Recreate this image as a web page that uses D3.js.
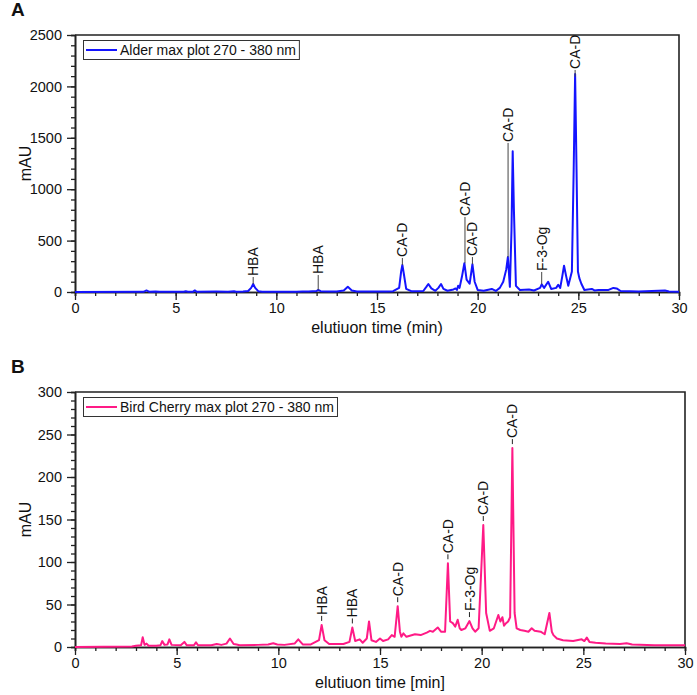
<!DOCTYPE html>
<html>
<head>
<meta charset="utf-8">
<script src="https://cdn.jsdelivr.net/npm/d3@7"></script>
<style>
	body { margin: 0; background: #fff; }
	svg { font-family: "Liberation Sans", Arial, sans-serif; }
	.axis path, .axis line { stroke: #222; }
	.axis text { font-size: 14.5px; fill: #111; }
	.lbl { font-size: 14px; fill: #111; }
</style>
</head>
<body>
<svg id="svg" width="697" height="695"></svg>
<script>
// Alder trace (min, mAU)
const alderTime = [0, 3.4, 3.55, 3.7, 4.0, 4.2, 5.4, 5.5, 5.6, 5.85, 5.95, 6.05, 7.0, 7.6, 7.9, 8.0, 8.35, 8.6, 8.75, 8.85, 8.95, 9.1, 9.3,
	11.0, 11.3, 11.6, 12.0, 12.08, 12.2, 12.6, 13.0, 13.35, 13.55, 13.75, 14.0, 15.5, 15.8, 16.1, 16.2, 16.26, 16.33, 16.45, 16.7,
	17.3, 17.45, 17.55, 17.7, 17.9, 18.05, 18.18, 18.3, 18.5, 18.8, 18.9, 18.97, 19.03, 19.1, 19.22, 19.34, 19.45, 19.6, 19.74, 19.85,
	20.0, 20.3, 20.7, 20.9, 21.1, 21.27, 21.42, 21.5, 21.6, 21.68, 21.74, 21.8, 21.9, 22.1, 22.55, 22.8, 23.1, 23.18, 23.3, 23.5, 23.65,
	23.9, 24.0, 24.1, 24.2, 24.29, 24.4, 24.5, 24.68, 24.77, 24.84, 24.91, 24.98, 25.05, 25.15, 25.3, 25.67, 25.8, 26.0, 26.5, 26.74,
	26.9, 27.1, 28.0, 29.3, 29.5, 30]
const alderMAU = [0, 2, 15, 2, 5, 2, 2, 8, 2, 2, 15, 2, 4, 3, 8, 3, 4, 10, 40, 78, 40, 8, 3,
	3, 6, 4, 10, 20, 8, 4, 4, 15, 50, 15, 4, 4, 8, 40, 200, 263, 180, 30, 8,
	10, 50, 78, 35, 12, 40, 78, 30, 12, 25, 35, 20, 60, 40, 150, 280, 120, 80, 270, 100,
	20, 12, 30, 10, 40, 100, 220, 340, 50, 600, 1370, 800, 60, 20, 25, 15, 40, 75, 40, 100, 30,
	40, 70, 40, 150, 256, 150, 60, 200, 1200, 2120, 1200, 200, 135, 80, 20, 30, 15, 20, 20, 40,
	35, 10, 5, 15, 5, 3]

// Bird cherry trace (min, mAU)
const cherryTime = [0, 2.8, 3.0, 3.25, 3.33, 3.42, 3.52, 3.62, 4.0, 4.2, 4.29, 4.4, 4.55, 4.64, 4.75, 5.2, 5.38, 5.5, 5.85, 5.95, 6.05,
	6.7, 6.97, 7.2, 7.45, 7.62, 7.8, 7.95, 8.1, 9.0, 9.5, 9.75, 9.95, 10.3, 10.8, 10.98, 11.2, 11.6, 12.0, 12.13, 12.27, 12.5,
	13.2, 13.5, 13.64, 13.78, 14.0, 14.15, 14.35, 14.46, 14.58, 14.8, 15.0, 15.15, 15.4, 15.58, 15.72, 15.87, 15.98, 16.05, 16.15,
	16.3, 16.72, 17.0, 17.3, 17.46, 17.6, 17.84, 18.0, 18.2, 18.34, 18.45, 18.58, 18.7, 18.82, 18.92, 19.0, 19.2, 19.4, 19.55,
	19.68, 19.85, 20.08, 20.22, 20.4, 20.6, 20.82, 20.92, 21.02, 21.1, 21.2, 21.3, 21.4, 21.51, 21.62, 21.72, 21.9, 22.1, 22.3,
	22.46, 22.6, 22.9, 23.1, 23.33, 23.45, 23.53, 23.7, 24.0, 24.5, 24.92, 25.05, 25.17, 25.3, 25.6, 26.1, 26.8, 27.13, 27.4, 28.5, 30]
const cherryMAU = [0, 0.5, 1.5, 2, 11.4, 2.5, 4, 1.5, 1.5, 2, 7, 2.5, 3, 9, 2.5, 2, 6, 2, 2, 5.5, 2,
	2, 3.5, 2.5, 4, 10, 3.5, 3, 2, 2.5, 3, 4.5, 3, 2.5, 4, 9, 3, 3, 8, 26, 8, 3.5,
	3.5, 6, 23, 7, 9, 5, 10, 30, 8, 6, 10, 7, 9, 14, 12, 48, 18, 12, 16,
	12, 15, 14, 17, 19, 18, 23, 18, 18, 98.5, 30, 28, 24, 32, 22, 20, 22, 30.5, 22,
	18, 22, 143.5, 40, 19, 22, 37.6, 30, 35, 25, 28, 30, 35, 234, 40, 22, 20, 19, 18,
	22, 19, 18, 15, 40, 18, 14, 10, 8, 7, 9, 7, 11, 6, 5, 4, 3.5, 4.5, 3, 2, 2]

// peak labels: time, peak height, value where the text begins
const alderLabels = [
	{t: 8.85, text: 'HBA', peak: 78, start: 146},
	{t: 12.08, text: 'HBA', peak: 20, start: 165},
	{t: 16.26, text: 'CA-D', peak: 263, start: 331},
	{t: 19.37, text: 'CA-D', peak: 280, start: 730},
	{t: 19.74, text: 'CA-D', peak: 270, start: 340},
	{t: 21.51, text: 'CA-D', peak: 340, start: 1450},
	{t: 23.18, text: 'F-3-Og', peak: 75, start: 195},
	{t: 24.84, text: 'CA-D', peak: 2095, start: 2160},
]
const cherryLabels = [
	{t: 12.13, text: 'HBA', peak: 26},
	{t: 13.64, text: 'HBA', peak: 23},
	{t: 15.87, text: 'CA-D', peak: 48},
	{t: 18.34, text: 'CA-D', peak: 98.5},
	{t: 19.4, text: 'F-3-Og', peak: 30.5},
	{t: 20.08, text: 'CA-D', peak: 143.5},
	{t: 21.51, text: 'CA-D', peak: 234},
]

const xTicks = [0, 5, 10, 15, 20, 25, 30]
const alderTicks = [0, 500, 1000, 1500, 2000, 2500]
const cherryTicks = [0, 50, 100, 150, 200, 250, 300]

const svg = d3.select('#svg')

function panel(o) {
	const x = d3.scaleLinear().domain([0, 30]).range([o.left, o.right])
	const y = d3.scaleLinear().domain([0, o.ymax]).range([o.bottom, o.top])
	const g = svg.append('g')

	// minor ticks
	g.append('g').attr('class', 'axis')
		.attr('transform', `translate(0,${o.bottom})`)
		.call(d3.axisBottom(x).tickValues(d3.range(0, 31, 1)).tickSize(4).tickFormat(''))
	g.append('g').attr('class', 'axis')
		.attr('transform', `translate(${o.left},0)`)
		.call(d3.axisLeft(y).tickValues(d3.range(0, o.ymax + 1, o.minor)).tickSize(4).tickFormat(''))

	g.append('g').attr('class', 'axis')
		.attr('transform', `translate(0,${o.bottom})`)
		.call(d3.axisBottom(x).tickValues(xTicks).tickSize(8).tickSizeOuter(0).tickPadding(3).tickFormat(d3.format('d')))
	g.append('g').attr('class', 'axis')
		.attr('transform', `translate(${o.left},0)`)
		.call(d3.axisLeft(y).tickValues(o.yticks).tickSize(8).tickSizeOuter(0).tickPadding(5).tickFormat(d3.format('d')))
	g.selectAll('.axis path').attr('stroke-width', 1.6)
	g.selectAll('.axis line').attr('stroke-width', 1.3)

	// frame top / right
	g.append('path')
		.attr('d', `M${o.left},${o.top}H${o.right}V${o.bottom}`)
		.attr('fill', 'none').attr('stroke', '#222').attr('stroke-width', 1.6)

	// trace
	const pts = o.time.map((t, i) => [t, o.vals[i]])
	g.append('path')
		.datum(pts)
		.attr('fill', 'none')
		.attr('stroke', o.color)
		.attr('stroke-width', 2)
		.attr('stroke-linejoin', 'round')
		.attr('d', d3.line().x(d => x(d[0])).y(d => y(d[1])))

	// labels
	o.labels.forEach(l => {
		const px = x(l.t)
		let ty
		if (o.dash) {
			const yb = y(l.peak) - 4
			g.append('line').attr('x1', px).attr('x2', px).attr('y1', yb).attr('y2', yb - 5)
				.attr('stroke', '#222').attr('stroke-width', 1)
			ty = yb - 6
		} else {
			g.append('line').attr('x1', px).attr('x2', px).attr('y1', y(l.peak)).attr('y2', y(l.start))
				.attr('stroke', '#444').attr('stroke-width', 1)
			ty = y(l.start) - 1
		}
		g.append('text').attr('class', 'lbl')
			.attr('transform', `translate(${px},${ty}) rotate(-90)`)
			.attr('dy', '0.36em')
			.text(l.text)
	})

	// legend
	const lg = g.append('g')
	const box = lg.append('rect')
		.attr('x', o.left + 8.5).attr('y', o.top + 5.5)
		.attr('height', 19)
		.attr('fill', '#fff').attr('stroke', '#333').attr('stroke-width', 1)
	lg.append('line')
		.attr('x1', o.left + 11).attr('x2', o.left + 42)
		.attr('y1', o.top + 15).attr('y2', o.top + 15)
		.attr('stroke', o.color).attr('stroke-width', 2)
	const lt = lg.append('text')
		.attr('x', o.left + 45).attr('y', o.top + 20)
		.attr('font-size', 14).attr('fill', '#111')
		.text(o.legend)
	box.attr('width', lt.node().getComputedTextLength() + 40)

	// axis titles
	g.append('text')
		.attr('transform', `translate(31,${(o.top + o.bottom) / 2}) rotate(-90)`)
		.attr('text-anchor', 'middle').attr('font-size', 16).attr('fill', '#111')
		.text('mAU')
	g.append('text')
		.attr('x', (o.left + o.right) / 2).attr('y', o.bottom + 41)
		.attr('text-anchor', 'middle').attr('font-size', 16).attr('fill', '#111')
		.text(o.xtitle)
	g.append('text')
		.attr('x', 11).attr('y', o.top - 19)
		.attr('font-size', 19).attr('font-weight', 'bold').attr('fill', '#111')
		.text(o.tag)
}

panel({
	left: 75, right: 679, top: 35, bottom: 292, ymax: 2500, minor: 100,
	yticks: alderTicks, time: alderTime, vals: alderMAU, color: '#1414ff',
	labels: alderLabels, dash: false,
	legend: 'Alder max plot 270 - 380 nm', xtitle: 'elutiuon time (min)', tag: 'A'
})
panel({
	left: 75, right: 685, top: 392, bottom: 647, ymax: 300, minor: 10,
	yticks: cherryTicks, time: cherryTime, vals: cherryMAU, color: '#ff1a86',
	labels: cherryLabels, dash: true,
	legend: 'Bird Cherry max plot 270 - 380 nm', xtitle: 'elutiuon time [min]', tag: 'B'
})
</script>
</body>
</html>
